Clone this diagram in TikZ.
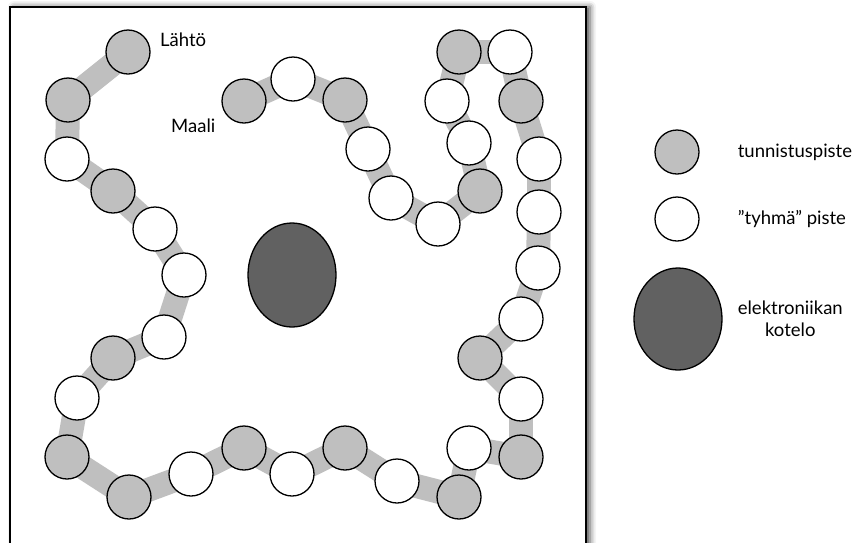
\documentclass[tikz,border=0pt]{standalone}
\usepackage{fontspec}
\setmainfont{Lato}
\usepackage{tikz}
\usetikzlibrary{
    positioning,
    shapes.geometric,
    shadows.blur,
    backgrounds
}

\begin{document}
\begin{tikzpicture}[
        x=1pt, y=-1pt,
        piste/.style={circle, draw=black, line width=1.3pt, minimum size=44pt,
                      inner sep=0pt},
        tpiste/.style={piste, fill=gray!50},
        tyhja/.style={piste, fill=white},
        kotelo/.style={ellipse, draw=black, line width=1.3pt, fill=black!62,
                       minimum width=88pt, minimum height=104pt, inner sep=0pt},
        nauha/.style={draw=gray!50, line width=24pt, line join=round},
        teksti/.style={font=\fontsize{18.5}{22}\selectfont, inner sep=3pt},
    ]
    \useasboundingbox (0,0) rectangle (857,542);

    % Nodes - track from start to finish
    \foreach \n/\x/\y/\s in {
        1/128/52/tpiste,  2/68/100/tpiste,  3/67/159/tyhja,
        4/113/191/tpiste, 5/155/229/tyhja,  6/184/275/tyhja,
        7/164/337/tyhja,  8/113/358/tpiste, 9/77/398/tyhja,
        10/67/457/tpiste, 11/129/497/tpiste, 12/191/474/tyhja,
        13/244/448/tpiste, 14/292/474/tyhja, 15/345/448/tpiste,
        16/397/481/tyhja, 17/459/497/tpiste, 18/469/448/tyhja,
        19/521/457/tpiste, 20/521/399/tyhja, 21/480/358/tpiste,
        22/521/319/tyhja, 23/538/268/tyhja, 24/539/212/tyhja,
        25/539/159/tyhja, 26/521/101/tpiste, 27/510/52/tyhja,
        28/459/52/tpiste, 29/447/101/tyhja, 30/469/143/tyhja,
        31/480/191/tpiste, 32/438/224/tyhja, 33/391/198/tyhja,
        34/368/149/tyhja, 35/345/100/tpiste, 36/293/79/tyhja,
        37/244/101/tpiste}
        \node[\s] (p\n) at (\x,\y) {};

    % Electronics box
    \node[kotelo] (box) at (292,275) {};

    \begin{scope}[on background layer]
        % Frame
        \fill[white, blur shadow={shadow xshift=4pt, shadow yshift=0pt,
              shadow blur radius=6pt, shadow opacity=70}]
            (10,7) rectangle (586,560);
        \draw[line width=2pt] (10,560) -- (10,7) -- (586,7) -- (586,560);
        % Track band
        \foreach \i [evaluate=\i as \j using int(\i-1)] in {2,...,37}
            \draw[nauha] (p\j.center) -- (p\i.center);
    \end{scope}

    % Labels
    \node[teksti, anchor=west] (lahto) at (157,40) {Lähtö};
    \node[teksti, anchor=west] (maali) at (168,126) {Maali};

    % Legend
    \node[tpiste] (leg1) at (677,152) {};
    \node[tyhja]  (leg2) at (677,219) {};
    \node[kotelo, minimum height=102pt] (leg3) at (678,319) {};
    \node[teksti, right=35pt of leg1] (t1) {tunnistuspiste};
    \node[teksti, right=35pt of leg2] (t2) {''tyhmä'' piste};
    \node[teksti, right=12pt of leg3, align=center] (t3) {elektroniikan\\kotelo};

\end{tikzpicture}
\end{document}
